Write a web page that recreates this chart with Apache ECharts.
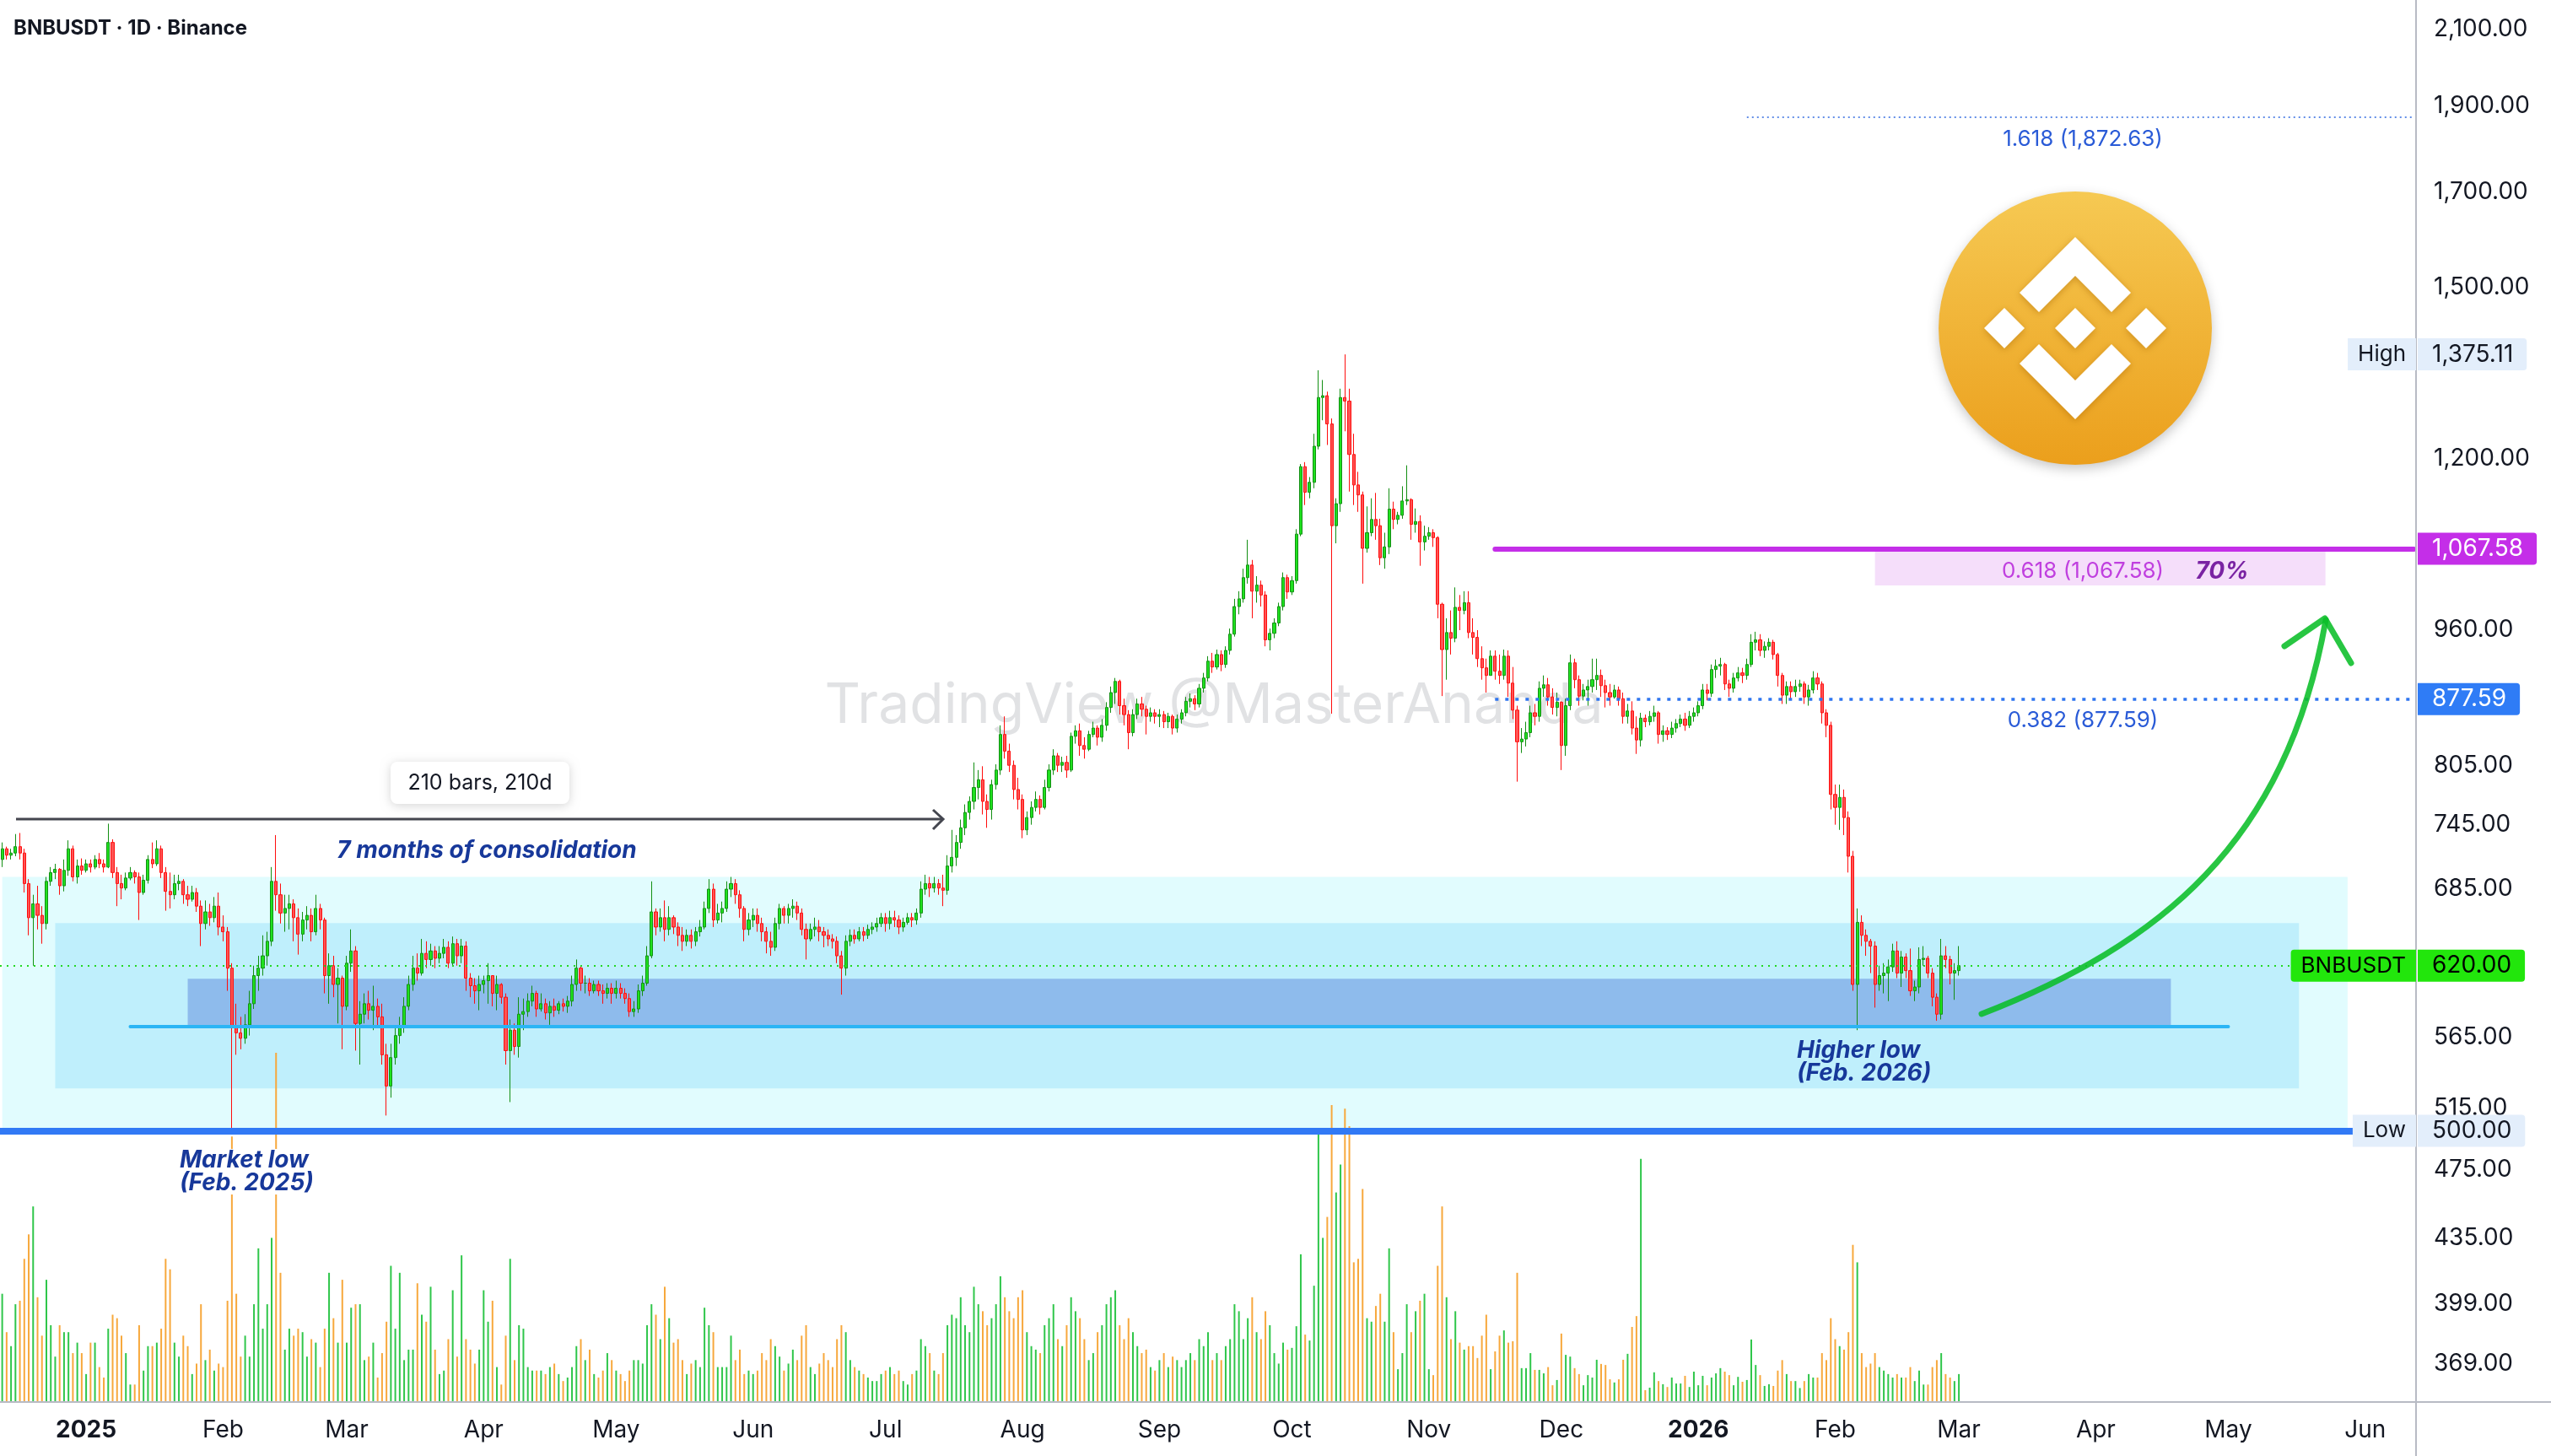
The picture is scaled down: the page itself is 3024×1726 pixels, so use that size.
<!DOCTYPE html>
<html>
<head>
<meta charset="utf-8">
<title>BNBUSDT · 1D · Binance</title>
<script src="https://cdn.jsdelivr.net/npm/echarts@6/dist/echarts.min.js"></script>
<style>
  html, body { margin: 0; padding: 0; background: #fff; }
  #chart { width: 3024px; height: 1726px; }
</style>
</head>
<body>
<div id="chart"></div>
<script>
// daily rows: [close, high, low, volume]; open = previous close
const firstOpen = 712
const dec24 = [[722,728,705,31],[716,724,712,20],[718,722,712,16],[724,736,715,28],[718,737,712,29],[690,722,682,41],[660,694,645,48],[672,680,620,56],[662,688,650,30],[655,670,638,19],[692,696,650,35],[700,705,688,22],[703,708,694,13],[688,704,680,22],[702,712,683,20],[722,730,697,20],[696,725,692,14],[706,712,690,17],[702,713,698,14]]
const jan25 = [[708,712,700,8],[705,712,700,17],[712,716,703,17],[708,718,704,10],[705,712,700,7],[728,746,704,21],[700,731,695,25],[690,705,670,24],[686,698,676,19],[695,700,684,14],[700,705,693,5],[696,702,690,5],[682,700,658,22],[693,698,680,9],[712,716,690,16],[708,728,704,16],[722,730,706,17],[700,725,695,21],[683,705,666,41],[680,700,668,38],[690,698,676,17],[692,698,684,13],[680,694,672,19],[676,688,670,16],[682,688,674,8],[670,686,665,11],[655,675,636,28],[665,675,650,12],[660,672,653,15],[670,678,656,9],[652,682,645,11]]
const feb25 = [[648,662,640,10],[618,652,600,29],[572,622,500,76],[568,590,552,31],[564,580,556,13],[574,582,560,19],[590,600,566,13],[612,620,586,28],[618,628,600,44],[628,645,612,21],[640,648,620,28],[692,705,636,47],[680,735,666,100],[664,690,655,37],[668,680,648,15],[672,680,650,21],[660,676,640,19],[646,668,629,21],[658,665,640,20],[662,670,650,13],[648,668,640,18],[668,680,645,17],[658,672,650,10],[612,660,598,21],[620,630,590,37],[605,628,595,24],[610,618,575,17],[588,612,556,35]]
const mar25 = [[622,628,585,17],[632,650,615,27],[575,636,555,28],[582,592,545,28],[590,598,575,12],[585,600,578,13],[588,604,570,17],[580,594,572,7],[552,590,545,14],[530,560,510,23],[550,560,522,39],[566,572,545,21],[572,580,560,37],[588,595,568,12],[605,612,585,15],[618,628,600,15],[614,630,608,34],[630,642,612,25],[625,640,618,23],[632,638,620,33],[626,636,618,15],[630,636,622,8],[635,642,626,9],[622,640,618,18],[638,644,620,32],[628,642,620,13],[636,642,622,42],[610,640,600,18],[604,614,595,15],[600,610,590,11],[605,612,585,15]]
const apr25 = [[608,612,598,32],[612,622,590,23],[598,612,588,29],[605,612,585,10],[595,606,590,5],[555,598,545,19],[570,578,519,41],[558,575,552,12],[582,595,550,22],[584,594,570,21],[592,598,580,10],[598,604,588,9],[586,600,580,9],[590,598,584,9],[583,594,578,8],[588,592,574,10],[585,594,580,11],[590,592,582,8],[588,594,584,6],[592,596,583,7],[605,612,588,10],[618,625,600,16],[606,620,600,18],[606,612,598,12],[600,610,596,15],[605,608,598,8],[600,608,596,7],[598,605,590,9],[602,606,594,14],[598,606,590,12]]
const may25 = [[602,608,594,9],[598,606,594,8],[594,602,590,6],[584,598,580,9],[586,592,580,12],[600,605,583,12],[606,612,596,11],[628,636,604,22],[665,692,626,28],[652,668,645,25],[660,668,648,18],[650,675,640,33],[660,670,645,24],[652,662,646,17],[645,656,636,18],[640,652,632,12],[645,650,636,8],[640,650,634,11],[648,652,636,12],[652,658,644,10],[668,674,650,27],[685,694,664,22],[658,690,652,20],[664,672,655,10],[668,674,656,10],[685,692,665,10],[690,696,678,19],[680,694,672,12],[668,684,660,15],[650,670,640,8],[658,664,645,9]]
const jun25 = [[662,668,652,8],[655,668,648,9],[648,660,640,14],[640,652,630,12],[635,648,628,18],[655,660,632,16],[668,672,650,13],[662,670,655,9],[668,672,655,11],[670,676,660,15],[664,674,658,12],[650,668,645,19],[642,655,625,22],[650,655,640,10],[652,660,644,8],[648,658,640,11],[645,652,635,14],[642,650,636,12],[640,646,634,10],[628,644,622,18],[618,632,597,22],[640,645,612,20],[645,650,636,12],[642,650,638,10],[648,652,640,9],[645,652,640,8],[650,654,642,7],[652,656,646,6],[655,660,648,6],[660,664,652,8]]
const jul25 = [[655,664,648,9],[660,666,650,10],[658,666,652,8],[652,662,646,9],[656,660,648,6],[660,664,654,5],[658,664,652,8],[664,668,654,9],[685,692,660,18],[690,698,680,16],[686,696,678,14],[690,696,682,9],[686,694,680,8],[684,698,670,14],[706,716,680,22],[714,740,700,25],[728,735,706,24],[742,750,722,30],[757,765,735,22],[768,773,750,20],[782,808,760,33],[790,800,770,28],[768,804,755,26],[760,775,742,22],[785,790,750,24],[800,806,780,28],[838,848,795,36],[820,858,812,30],[805,828,798,26],[780,810,770,24],[770,792,760,30]]
const aug25 = [[740,775,732,32],[752,758,735,20],[762,768,745,16],[770,778,758,15],[762,774,755,14],[782,790,760,22],[800,806,778,24],[815,822,795,28],[805,818,798,18],[808,814,798,16],[800,815,792,22],[836,840,798,30],[842,848,828,26],[826,850,815,24],[822,835,812,18],[838,842,820,12],[845,852,835,14],[835,848,826,20],[848,855,830,22],[868,874,842,28],[885,892,862,30],[898,902,872,32],[870,900,860,22],[860,878,848,18],[840,865,822,24],[860,866,836,20],[872,878,855,16],[866,880,858,14],[858,870,838,15],[862,868,852,10],[858,866,850,9]]
const sep25 = [[860,866,846,12],[852,864,845,14],[858,862,845,10],[845,860,838,13],[855,860,840,12],[862,866,850,10],[875,880,858,12],[878,884,868,14],[872,882,865,12],[890,895,868,18],[902,908,885,16],[922,928,898,20],[915,932,908,12],[930,936,912,14],[918,935,910,12],[935,940,914,16],[955,962,930,18],[990,1000,952,28],[1000,1010,980,26],[1028,1040,995,18],[1045,1080,1020,24],[1010,1052,975,30],[1018,1030,995,20],[1005,1024,990,18],[948,1010,940,26],[956,962,935,22],[969,975,950,14],[990,995,965,11],[1028,1035,985,17],[1009,1032,1000,15]]
const oct25 = [[1024,1030,1005,15.5],[1088,1095,1020,21.7],[1188,1192,1085,42.3],[1149,1195,1130,19.3],[1164,1172,1140,17.6],[1220,1240,1155,33.3],[1300,1347,1215,77],[1303,1330,1262,47],[1256,1310,1222,53],[1100,1265,861,85],[1132,1140,1075,60],[1300,1315,1120,68],[1294,1375.11,1244,84],[1207,1315,1150,79],[1160,1240,1130,40],[1145,1180,1120,41],[1068,1150,1020,61],[1090,1128,1062,24],[1109,1140,1085,23],[1100,1148,1080,27.5],[1055,1110,1045,31],[1070,1090,1040,23],[1124,1155,1060,44],[1109,1135,1095,20],[1115,1120,1102,9.4],[1136,1158,1110,14],[1138,1190,1130,28],[1102,1140,1080,20],[1106,1125,1090,26],[1077,1115,1044,29],[1085,1100,1065,31]]
const nov25 = [[1090,1098,1080,9.4],[1083,1095,1070,7.7],[993,1085,975,39],[936,995,881,56],[957,975,900,30],[950,985,930,18],[989,1015,945,26],[985,1005,960,17],[995,1010,980,15],[957,1010,950,16],[951,975,930,16],[925,960,915,12.6],[914,940,900,19],[905,925,885,25],[928,935,905,9.4],[910,935,900,14.5],[905,930,895,19],[928,936,900,20.5],[896,935,880,17],[865,915,855,17.4],[830,870,788,37],[833,845,818,9.7],[840,852,825,9.7],[862,870,835,14],[858,872,848,9.2],[890,898,852,9.2],[894,905,880,8.2],[880,902,870,10],[868,890,860,4.8],[874,885,858,6.3]]
const dec25 = [[826,875,800,19.6],[870,878,815,13.5],[920,930,865,13],[900,925,890,9.7],[881,905,870,8],[888,895,876,4.8],[892,900,870,7.7],[900,925,885,7],[905,925,888,12.1],[893,912,880,10.9],[885,900,868,10.6],[880,895,870,6.5],[888,894,878,5.6],[878,892,870,6.5],[858,885,850,12.1],[864,872,850,13.8],[845,875,838,21.5],[832,858,817,24.6],[856,862,825,69.6],[852,860,846,3.4],[858,864,848,4.1],[862,870,852,8.5],[838,864,828,6],[842,848,830,5.1],[838,846,832,4.3],[845,852,834,7],[850,855,840,5.3],[855,860,846,5.3],[848,862,842,7.5],[858,864,845,4.3],[862,868,852,8.7]]
const jan26 = [[870,875,858,4.8],[888,895,866,7.5],[884,895,876,4.8],[912,918,880,7],[916,924,902,8.2],[918,926,905,9.7],[895,920,888,8.7],[890,900,880,7.7],[902,908,885,4.8],[908,915,898,7.2],[905,914,896,5.8],[918,925,900,6.3],[945,955,915,17.9],[948,958,935,10.6],[935,955,928,7.7],[940,946,926,4.6],[945,950,935,5.1],[930,948,924,4.6],[905,932,892,9],[882,908,872,12],[892,898,872,8],[886,898,878,6],[892,900,880,6],[895,900,886,4],[880,898,872,6],[888,894,870,8],[902,910,884,7],[895,908,888,7],[862,898,850,14],[848,866,835,12],[775,852,760,24]]
const feb26 = [[762,785,745,18],[772,785,740,16],[752,780,735,15],[715,758,700,20],[605,720,600,45],[656,668,570,40],[645,662,636,14],[640,650,628,10],[636,642,614,11],[605,640,587,14],[612,620,600,10],[614,622,598,9],[619,625,592,8],[632,638,615,7],[614,640,610,8],[627,632,603,7],[616,630,610,7],[600,634,596,10],[603,608,592,6],[625,635,598,9],[626,636,620,5],[614,628,610,5],[595,618,588,10],[582,598,577,12],[628,642,578,14],[625,636,618,8],[614,628,605,7],[616,622,593,6]]
const mar26 = [[620,636,612,8]]

const priceTicks = [369, 399, 435, 475, 515, 565, 685, 745, 805, 960, 1200, 1500, 1700, 1900, 2100]
const monthNames = ['Jan', 'Feb', 'Mar', 'Apr', 'May', 'Jun', 'Jul', 'Aug', 'Sep', 'Oct', 'Nov', 'Dec']
const firstDate = Date.UTC(2024, 11, 13)
const dayCount = 547 // axis runs to mid June 2026

const lastPrice = 620
const athPrice = 1375.11
const lowPrice = 500
const fib382 = 877.59
const fib618 = 1067.58
const fib1618 = 1872.63

const font = 'Inter, "Noto Sans", sans-serif'

const dates = []
for (let i = 0; i < dayCount; i++) {
  dates.push(new Date(firstDate + i * 86400000).toISOString().slice(0, 10))
}

const rows = [].concat(dec24, jan25, feb25, mar25, apr25, may25, jun25, jul25, aug25, sep25, oct25, nov25, dec25, jan26, feb26, mar26)
const candles = []
const volumes = []
let prevClose = firstOpen
rows.forEach(function (r) {
  const o = prevClose
  const c = r[0]
  candles.push([o, c, Math.min(r[2], o, c), Math.max(r[1], o, c)])
  volumes.push({ value: r[3], itemStyle: { color: c >= o ? '#2fc64a' : '#f7a83c' } })
  prevClose = c
})

function fmtPrice (v) {
  return v.toLocaleString('en-US', { minimumFractionDigits: 2, maximumFractionDigits: 2 })
}

function box (from, to, top, bottom, color) {
  return [{ xAxis: from, yAxis: top, itemStyle: { color: color } }, { xAxis: to, yAxis: bottom }]
}

function seg (from, to, v, style) {
  return [{ coord: [from, v], lineStyle: style }, { coord: [to, v] }]
}

const lastDay = dates[dates.length - 1]

const option = {
  animation: false,
  backgroundColor: '#ffffff',
  textStyle: { fontFamily: font },
  grid: [
    { left: 0, right: 160, top: 0, bottom: 64 },
    { left: 0, right: 160, top: 1248, bottom: 64 }
  ],
  xAxis: [
    {
      type: 'category', gridIndex: 0, data: dates, boundaryGap: true,
      axisLine: { show: false }, axisTick: { show: false }, splitLine: { show: false },
      axisLabel: {
        interval: function (i, v) { return v.slice(8) === '01' },
        formatter: function (v) {
          const m = +v.slice(5, 7)
          return m === 1 ? '{b|' + v.slice(0, 4) + '}' : monthNames[m - 1]
        },
        fontSize: 28, color: '#131722', margin: 20, fontFamily: font,
        rich: { b: { fontSize: 28, fontWeight: 'bold', color: '#131722', fontFamily: font } }
      }
    },
    { type: 'category', gridIndex: 1, data: dates, boundaryGap: true, show: false }
  ],
  yAxis: [
    {
      type: 'log', gridIndex: 0, position: 'right', min: 351.1, max: 2182.3,
      axisLine: { show: false }, axisTick: { show: false }, splitLine: { show: false },
      axisLabel: {
        customValues: priceTicks, formatter: fmtPrice,
        fontSize: 28, color: '#131722', margin: 21, fontFamily: font
      }
    },
    { type: 'value', gridIndex: 1, min: 0, max: 100, show: false, splitLine: { show: false } }
  ],
  series: [
    {
      name: 'zones', type: 'line', xAxisIndex: 0, yAxisIndex: 0, data: [], z: 1, silent: true,
      markArea: {
        silent: true,
        data: [
          box(dates[0], '2026-05-28', 696, lowPrice, '#e1fcfe'),
          box('2024-12-25', '2026-05-17', 655.3, 528.3, '#bfeffc'),
          box('2025-01-24', '2026-04-18', 609.5, 573.1, '#8ebbec'),
          box('2026-02-10', '2026-05-23', 1065.7, 1017.5, '#f5defa')
        ]
      }
    },
    {
      name: 'Volume', type: 'bar', xAxisIndex: 1, yAxisIndex: 1, data: volumes,
      barWidth: 2, z: 2, silent: true
    },
    {
      name: 'BNBUSDT', type: 'candlestick', xAxisIndex: 0, yAxisIndex: 0, data: candles,
      barWidth: 3.6, z: 3, silent: true,
      itemStyle: { color: '#1fe21f', color0: '#ff5454', borderColor: '#138f13', borderColor0: '#ff0d0d', borderWidth: 1 }
    },
    {
      name: 'levels', type: 'line', xAxisIndex: 0, yAxisIndex: 0, data: [], z: 4, silent: true,
      markLine: {
        silent: true, symbol: 'none', label: { show: false },
        data: [
          { yAxis: lastPrice, lineStyle: { color: '#22d822', width: 2, type: [2, 6] } },
          seg('2025-01-11', '2026-05-01', 573, { color: '#2bb5f5', width: 4, type: 'solid', cap: 'round' }),
          { yAxis: lowPrice, lineStyle: { color: '#3179f5', width: 8, type: 'solid' } },
          seg('2025-11-16', lastDay, fib618, { color: '#c42ee8', width: 6, type: 'solid', cap: 'round' }),
          seg('2025-11-16', lastDay, fib382, { color: '#2f75f0', width: 3.5, type: [4, 8] }),
          seg('2026-01-12', lastDay, fib1618, { color: '#2f6ae0', width: 1.5, type: [2, 4] })
        ]
      }
    }
  ]
}

const chart = echarts.init(document.getElementById('chart'))
chart.setOption(option)

function tagRight (y, text, bg, fg) {
  return {
    type: 'text', x: 2866, y: y, z: 20,
    style: { text: text, fill: fg, font: '28px ' + font, align: 'left', verticalAlign: 'middle', lineHeight: 28,
      backgroundColor: bg, padding: [5, 16, 5, 17], borderRadius: [0, 4, 4, 0] }
  }
}

function tagLeft (y, text, bg, fg, r) {
  return {
    type: 'text', x: 2864, y: y, z: 20,
    style: { text: text, fill: fg, font: '26px ' + font, align: 'right', verticalAlign: 'middle', lineHeight: 28,
      backgroundColor: bg, padding: [5, 12, 5, 12], borderRadius: r }
  }
}

function diamond (cx, cy, s) {
  return [[cx, cy - s], [cx + s, cy], [cx, cy + s], [cx - s, cy]]
}

function chevron (cx, cy, dir) {
  // dir -1 = pointing up, 1 = pointing down
  return [[cx, cy + dir * 108], [cx + 66, cy + dir * 42], [cx + 43, cy + dir * 19], [cx, cy + dir * 62],
    [cx - 43, cy + dir * 19], [cx - 66, cy + dir * 42]]
}

function buildGraphics () {
  const py = function (v) { return chart.convertToPixel({ yAxisIndex: 0 }, v) }
  const cx = 2460
  const cy = 389
  const white = { fill: '#ffffff', shadowBlur: 8, shadowColor: 'rgba(160,95,0,0.45)', shadowOffsetY: 2 }
  const navy = '#17389a'
  const fibBlue = '#2a5bd7'
  return [
    // watermark
    { type: 'text', x: 1439, y: 837, z: 0, silent: true,
      style: { text: 'TradingView @MasterAnanda', fill: 'rgba(120,123,134,0.22)', font: '66px ' + font, align: 'center', verticalAlign: 'middle' } },
    // title
    { type: 'text', x: 16, y: 34, z: 20,
      style: { text: 'BNBUSDT · 1D · Binance', fill: '#131722', font: 'bold 24px ' + font, verticalAlign: 'middle' } },
    // pane separators
    { type: 'line', z: 15, shape: { x1: 2864, y1: 0, x2: 2864, y2: 1726 }, style: { stroke: '#b8bbc4', lineWidth: 2 } },
    { type: 'line', z: 15, shape: { x1: 0, y1: 1662, x2: 3024, y2: 1662 }, style: { stroke: '#b8bbc4', lineWidth: 2 } },
    // Binance coin
    { type: 'circle', z: 10, shape: { cx: cx, cy: cy, r: 162 },
      style: { fill: new echarts.graphic.LinearGradient(0, 0, 0, 1, [{ offset: 0, color: '#f6c953' }, { offset: 1, color: '#eb9f1c' }]),
        shadowBlur: 14, shadowColor: 'rgba(0,0,0,0.22)', shadowOffsetY: 5 } },
    { type: 'polygon', z: 11, shape: { points: chevron(cx, cy, -1) }, style: white },
    { type: 'polygon', z: 11, shape: { points: chevron(cx, cy, 1) }, style: white },
    { type: 'polygon', z: 11, shape: { points: diamond(cx, cy, 24) }, style: white },
    { type: 'polygon', z: 11, shape: { points: diamond(cx - 84, cy, 24) }, style: white },
    { type: 'polygon', z: 11, shape: { points: diamond(cx + 84, cy, 24) }, style: white },
    // 210 bars measure
    { type: 'line', z: 12, shape: { x1: 19, y1: 971, x2: 1117, y2: 971 }, style: { stroke: '#44464f', lineWidth: 3 } },
    { type: 'polyline', z: 12, shape: { points: [[1106, 960], [1118, 971], [1106, 983]] }, style: { stroke: '#44464f', lineWidth: 3, fill: null } },
    { type: 'rect', z: 12, shape: { x: 463, y: 903, width: 212, height: 50, r: 8 },
      style: { fill: '#ffffff', shadowBlur: 12, shadowColor: 'rgba(0,0,0,0.16)', shadowOffsetY: 2 } },
    { type: 'text', x: 569, y: 928, z: 13,
      style: { text: '210 bars, 210d', fill: '#131722', font: '25px ' + font, align: 'center', verticalAlign: 'middle' } },
    // notes
    { type: 'text', x: 577, y: 1009, z: 12,
      style: { text: '7 months of consolidation', fill: navy, font: 'italic bold 28px ' + font, align: 'center', verticalAlign: 'middle' } },
    { type: 'text', x: 213, y: 1362, z: 12,
      style: { text: 'Market low\n(Feb. 2025)', fill: navy, font: 'italic bold 28px ' + font, lineHeight: 27, verticalAlign: 'top', backgroundColor: '#ffffff' } },
    { type: 'text', x: 2130, y: 1232, z: 12,
      style: { text: 'Higher low\n(Feb. 2026)', fill: navy, font: 'italic bold 28px ' + font, lineHeight: 27, verticalAlign: 'top' } },
    // fibonacci labels
    { type: 'text', x: 2469, y: py(fib1618) + 26, z: 12,
      style: { text: '1.618 (' + fmtPrice(fib1618) + ')', fill: fibBlue, font: '26px ' + font, align: 'center', verticalAlign: 'middle' } },
    { type: 'text', x: 2469, y: py(fib618) + 27, z: 12,
      style: { text: '0.618 (' + fmtPrice(fib618) + ')', fill: '#c03fdf', font: '26px ' + font, align: 'center', verticalAlign: 'middle' } },
    { type: 'text', x: 2634, y: py(fib618) + 27, z: 12,
      style: { text: '70%', fill: '#7a23a3', font: 'italic bold 28px ' + font, align: 'center', verticalAlign: 'middle' } },
    { type: 'text', x: 2469, y: py(fib382) + 26, z: 12,
      style: { text: '0.382 (' + fmtPrice(fib382) + ')', fill: fibBlue, font: '26px ' + font, align: 'center', verticalAlign: 'middle' } },
    // projected path
    { type: 'bezierCurve', z: 12,
      shape: { x1: 2349, y1: 1202, cpx1: 2560, cpy1: 1120, cpx2: 2710, cpy2: 1000, x2: 2757, y2: 735 },
      style: { stroke: 'rgba(10,190,40,0.88)', lineWidth: 7, lineCap: 'round', fill: null } },
    { type: 'polyline', z: 12, shape: { points: [[2708, 766], [2756, 733], [2787, 786]] },
      style: { stroke: 'rgba(10,190,40,0.88)', lineWidth: 7, lineCap: 'round', lineJoin: 'round', fill: null } },
    // price scale tags
    tagLeft(py(athPrice), 'High', '#e3eefb', '#131722', 0),
    tagRight(py(athPrice), fmtPrice(athPrice), '#e3eefb', '#131722'),
    tagRight(py(fib618), fmtPrice(fib618), '#c42ee8', '#ffffff'),
    tagRight(py(fib382), fmtPrice(fib382), '#2f7cf6', '#ffffff'),
    tagLeft(py(lastPrice), 'BNBUSDT', '#22e60c', '#000000', [4, 0, 0, 4]),
    tagRight(py(lastPrice), fmtPrice(lastPrice), '#22e60c', '#000000'),
    tagLeft(py(lowPrice), 'Low', '#e3eefb', '#131722', 0),
    tagRight(py(lowPrice), fmtPrice(lowPrice), '#e3eefb', '#131722')
  ]
}

chart.setOption({ graphic: buildGraphics() })
</script>
</body>
</html>
